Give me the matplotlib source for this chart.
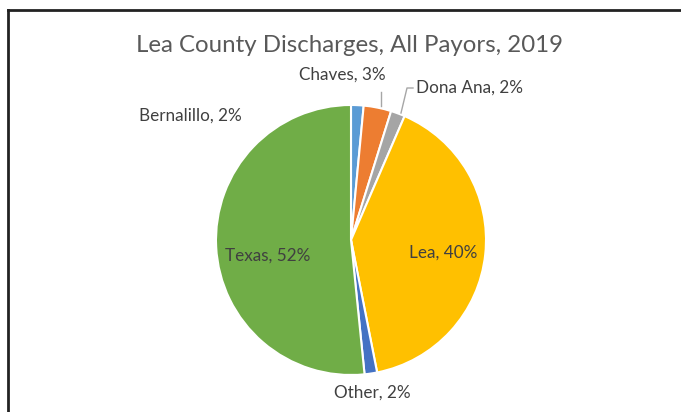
import matplotlib.pyplot as plt
from matplotlib.lines import Line2D

plt.rcParams['font.family'] = ['Lato', 'DejaVu Sans']

# data (shares of discharges, %)
counties = ['Bernalillo', 'Chaves', 'Dona Ana', 'Lea', 'Other', 'Texas']
shares = [1.5, 3.3, 1.7, 40.4, 1.5, 51.6]
shown = ['2%', '3%', '2%', '40%', '2%', '52%']
colors = ['#5B9BD5', '#ED7D31', '#A5A5A5', '#FFC000', '#4472C4', '#70AD47']

W, H = 681, 412
fig = plt.figure(figsize=(W / 100, H / 100), dpi=100)
ax = fig.add_axes([0, 0, 1, 1])

ax.pie(shares, colors=colors, startangle=90, counterclock=False,
       center=(351, H - 240), radius=135, frame=True,
       wedgeprops=dict(edgecolor='white', linewidth=1.5))
ax.set_xlim(0, W)
ax.set_ylim(0, H)
ax.set_aspect('equal')
ax.axis('off')

# chart border (top and left visible)
fig.add_artist(Line2D([8 / W, 1], [1 - 10 / H, 1 - 10 / H], color='#222222', lw=2,
                      transform=fig.transFigure))
fig.add_artist(Line2D([8 / W, 8 / W], [0, 1 - 10 / H], color='#222222', lw=2,
                      transform=fig.transFigure))

ax.text(349, H - 45, 'Lea County Discharges, All Payors, 2019', ha='center', va='center',
        fontsize=17.3, color='#595959')

txt = dict(fontsize=12.3, color='#404040', va='center')
lbl = [f'{c}, {s}' for c, s in zip(counties, shown)]
ax.text(190, H - 116, lbl[0], ha='center', **txt)
ax.text(342, H - 75, lbl[1], ha='center', **txt)
ax.text(416, H - 88, lbl[2], ha='left', **txt)
ax.text(443, H - 253, lbl[3], ha='center', **txt)
ax.text(372, H - 393, lbl[4], ha='center', **txt)
ax.text(268, H - 256, lbl[5], ha='center', **txt)

# leader lines
ax.plot([381, 381], [H - 92, H - 106], color='#A6A6A6', lw=1)
ax.plot([413, 407, 401], [H - 88, H - 88, H - 113], color='#A6A6A6', lw=1)

fig.savefig('out.png', dpi=100, facecolor='white')
